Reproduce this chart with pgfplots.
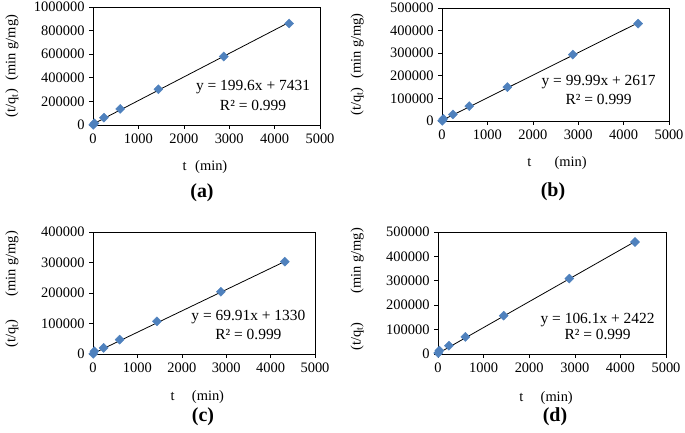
\documentclass[border=0pt]{standalone}
\usepackage{fontspec}
\setmainfont{Liberation Serif}
\usepackage{pgfplots}
\pgfplotsset{compat=1.18}
\definecolor{exblue}{HTML}{4F81BD}
\newcommand{\fs}{\fontsize{14.5}{16}\selectfont}
\newcommand{\fe}{\fontsize{15.5}{17}\selectfont}
\newcommand{\fp}{\fontsize{20}{22}\selectfont\bfseries}
\pgfplotsset{
  panel/.style={
    scale only axis,
    anchor=south west,
    xmin=0, xmax=5000,
    ymin=0,
    xtick={0,1000,2000,3000,4000,5000},
    tick align=outside,
    xtick pos=left, ytick pos=left,
    major tick length=4bp,
    tick style={black, line width=0.6pt},
    axis line style={black, line width=0.7pt},
    scaled ticks=false,
    /pgf/number format/assume math mode=true,
    /pgf/number format/set thousands separator={},
    /pgf/number format/fixed,
    /pgf/number format/precision=0,
    tick label style={font=\fs},
    label style={font=\fs},
    xticklabel style={yshift=-1bp},
    yticklabel style={xshift=-1bp},
  },
  pts/.style={only marks, mark=square*, mark size=3.2bp, mark options={rotate=45, fill=exblue, draw=exblue}},
  fit/.style={black, line width=0.8pt, no marks},
}
\begin{document}
\begin{tikzpicture}[x=1bp,y=1bp]
\useasboundingbox (0,0) rectangle (685,433);
% (a)
\begin{axis}[panel, at={(93bp,308bp)}, width=227bp, height=118bp,
  ymax=1000000, ytick={0,200000,400000,600000,800000,1000000},
  xlabel={t\hspace{0.6em}(min)},
  xlabel style={at={(axis description cs:0.493,-0.356)}, anchor=center},
  ylabel={(t/q\textsubscript{t})\hspace{0.6em}(min g/mg)},
  ylabel style={at={(axis description cs:-0.357,0.5)}, anchor=center, rotate=0}]
\addplot[fit] coordinates {(5,8429) (4320,869703)};
\addplot[pts] coordinates {(5,1000) (30,14000) (240,62000) (600,136000) (1440,303000) (2880,580000) (4320,860000)};
\node[font=\fe] at (rel axis cs:0.705,0.322) {y = 199.6x + 7431};
\node[font=\fe] at (rel axis cs:0.705,0.169) {R² = 0.999};
\end{axis}
% (b)
\begin{axis}[panel, at={(442bp,312bp)}, width=227bp, height=113bp,
  ymax=500000, ytick={0,100000,200000,300000,400000,500000},
  xlabel={t\hspace{1.6em}(min)},
  xlabel style={at={(axis description cs:0.507,-0.372)}, anchor=center},
  ylabel={(t/q\textsubscript{t})\hspace{0.6em}(min g/mg)},
  ylabel style={at={(axis description cs:-0.374,0.5)}, anchor=center}]
\addplot[fit] coordinates {(5,3117) (4320,434574)};
\addplot[pts] coordinates {(5,1000) (30,10000) (240,29000) (600,66000) (1440,150000) (2880,294000) (4320,431000)};
\node[font=\fe] at (rel axis cs:0.69,0.345) {y = 99.99x + 2617};
\node[font=\fe] at (rel axis cs:0.69,0.186) {R² = 0.999};
\end{axis}
% (c)
\begin{axis}[panel, at={(93bp,79bp)}, width=222bp, height=122bp,
  ymax=400000, ytick={0,100000,200000,300000,400000},
  xlabel={t\hspace{1.2em}(min)},
  xlabel style={at={(axis description cs:0.47,-0.352)}, anchor=center},
  ylabel={(t/q\textsubscript{t})\hspace{1.6em}(min g/mg)},
  ylabel style={at={(axis description cs:-0.365,0.53)}, anchor=center}]
\addplot[fit] coordinates {(5,1680) (4320,303341)};
\addplot[pts] coordinates {(5,500) (30,9000) (240,20000) (600,47000) (1440,107000) (2880,204000) (4320,302700)};
\node[font=\fe] at (rel axis cs:0.70,0.303) {y = 69.91x + 1330};
\node[font=\fe] at (rel axis cs:0.70,0.156) {R² = 0.999};
\end{axis}
% (d)
\begin{axis}[panel, at={(438bp,79bp)}, width=228bp, height=122bp,
  ymax=500000, ytick={0,100000,200000,300000,400000,500000},
  xlabel={t\hspace{1.2em}(min)},
  xlabel style={at={(axis description cs:0.474,-0.36)}, anchor=center},
  ylabel={(t/q\textsubscript{t})\hspace{2em}(min g/mg)},
  ylabel style={at={(axis description cs:-0.355,0.53)}, anchor=center}]
\addplot[fit] coordinates {(5,2953) (4320,460774)};
\addplot[pts] coordinates {(5,4000) (30,14000) (240,34000) (600,70000) (1440,157000) (2880,309000) (4320,459000)};
\node[font=\fe] at (rel axis cs:0.70,0.28) {y = 106.1x + 2422};
\node[font=\fe] at (rel axis cs:0.70,0.156) {R² = 0.999};
\end{axis}
\node[font=\fp] at (202,240) {(a)};
\node[font=\fp] at (553,241) {(b)};
\node[font=\fp] at (203,16) {(c)};
\node[font=\fp] at (555,16) {(d)};
\end{tikzpicture}
\end{document}
